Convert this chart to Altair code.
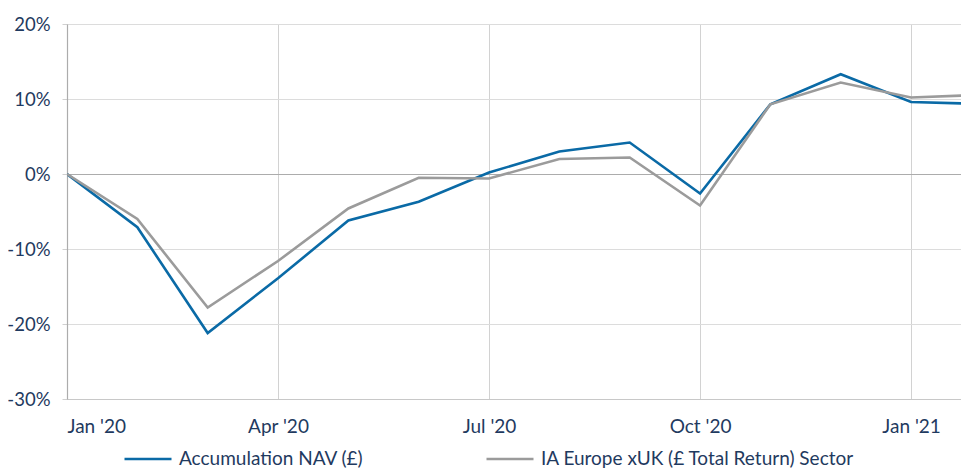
import json
import altair as alt
import pandas as pd

months = ["Jan '20", "Feb '20", "Mar '20", "Apr '20", "May '20", "Jun '20", "Jul '20",
          "Aug '20", "Sep '20", "Oct '20", "Nov '20", "Dec '20", "Jan '21", "Feb '21"]
nav = [0.0, -7.1, -21.2, -13.9, -6.2, -3.7, 0.2, 3.0, 4.2, -2.6, 9.3, 13.3, 9.6, 9.35]
sector = [0.0, -6.0, -17.8, -11.6, -4.6, -0.5, -0.6, 2.0, 2.2, -4.2, 9.3, 12.2, 10.2, 10.55]
series_names = ["Accumulation NAV (£)", "IA Europe xUK (£ Total Return) Sector"]
series_colors = ["#0a6aa6", "#9b9b9b"]
y_ticks = [-30, -20, -10, 0, 10, 20]
x_ticks = [0, 3, 6, 9, 12]

rows = []
for name, vals in zip(series_names, [nav, sector]):
    for i, v in enumerate(vals):
        rows.append({"idx": i, "month": months[i], "value": v, "series": name})
df = pd.DataFrame(rows)

FONT = "Lato, sans-serif"
TXT = "#1f3a60"

chart = alt.Chart(df).mark_line(strokeWidth=2.6, clip=True).encode(
    x=alt.X("idx:Q",
            scale=alt.Scale(domain=[0, 12.71], nice=False, zero=False),
            axis=alt.Axis(values=x_ticks, title=None,
                          labelExpr=json.dumps(months) + "[datum.value]",
                          grid=True, gridColor="#d2d2d2", gridWidth=1,
                          domain=True, domainColor="#c8c8c8", ticks=False,
                          labelPadding=18, labelFontSize=19, labelFont=FONT,
                          labelColor=TXT)),
    y=alt.Y("value:Q",
            scale=alt.Scale(domain=[-30, 20], nice=False),
            axis=alt.Axis(values=y_ticks, title=None,
                          labelExpr="datum.value + '%'",
                          grid=True,
                          gridColor=alt.condition("datum.value == 0", alt.value("#acacac"), alt.value("#dcdcdc")),
                          gridWidth=1.2,
                          domain=True, domainColor="#acacac", domainWidth=1.2,
                          ticks=True, tickSize=5, tickColor="#d0d0d0",
                          labelPadding=12, labelFontSize=18.5, labelFont=FONT,
                          labelColor=TXT)),
    color=alt.Color("series:N",
                    scale=alt.Scale(domain=series_names, range=series_colors),
                    legend=alt.Legend(title=None, orient="none", direction="horizontal",
                                      legendX=56, legendY=410,
                                      symbolType="stroke", symbolSize=2209,
                                      symbolStrokeWidth=2.6, labelOffset=6,
                                      columnPadding=117,
                                      labelFontSize=19, labelFont=FONT,
                                      labelColor=TXT, labelLimit=500)),
    detail="series:N",
).properties(
    width=894, height=375,
    autosize=alt.AutoSizeParams(type="none"),
    padding={"left": 59, "top": 16, "right": 0, "bottom": 80},
).configure_view(
    fill="#f7f7f7", stroke=None
).configure(background="white")

chart.save("out.html", embed_options={"renderer": "svg", "actions": False})
